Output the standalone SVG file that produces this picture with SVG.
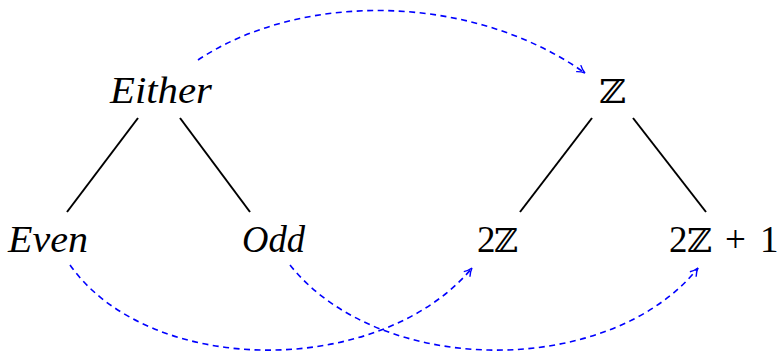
<svg xmlns="http://www.w3.org/2000/svg" width="779" height="353" viewBox="0 0 779 353">
<defs>
<marker id="ah" viewBox="0 0 10 10" refX="9" refY="5" markerWidth="10" markerHeight="10" markerUnits="userSpaceOnUse" orient="auto">
<path d="M1,1 Q5,4 9,5 Q5,6 1,9" fill="none" stroke="#0000ff" stroke-width="1.4"/>
</marker>
<style>
.lbl{font-family:"Liberation Serif",serif;font-style:italic;font-size:37px;fill:#000;text-anchor:start}
.num{font-family:"Liberation Serif",serif;font-size:37px;fill:#000;text-anchor:start}
.bb{font-family:"DejaVu Serif",serif;font-size:33px;font-style:normal}
.edge{stroke:#000;stroke-width:2;fill:none}
.map{stroke:#0000ff;stroke-width:1.6;fill:none;stroke-dasharray:6,4.5;marker-end:url(#ah)}
</style>
</defs>
<rect width="779" height="353" fill="#fff"/>
<g id="either"><text class="lbl" x="110" y="103" textLength="102" lengthAdjust="spacingAndGlyphs">Either</text></g>
<g id="even"><text class="lbl" x="8" y="252" textLength="80" lengthAdjust="spacingAndGlyphs">Even</text></g>
<g id="odd"><text class="lbl" x="242" y="252" textLength="63" lengthAdjust="spacingAndGlyphs">Odd</text></g>
<g id="Z"><text class="num" x="599" y="103"><tspan class="bb" textLength="27" lengthAdjust="spacingAndGlyphs">ℤ</tspan></text></g>
<g id="twoZ"><text class="num" y="252"><tspan x="477">2</tspan><tspan class="bb" x="494" textLength="24" lengthAdjust="spacingAndGlyphs">ℤ</tspan></text></g>
<g id="twoZ1"><text class="num" y="252"><tspan x="669">2</tspan><tspan class="bb" x="687" textLength="25" lengthAdjust="spacingAndGlyphs">ℤ</tspan><tspan x="725">+</tspan><tspan x="760">1</tspan></text></g>
<g id="connectors">
<line class="edge" x1="138" y1="118" x2="67" y2="212"/>
<line class="edge" x1="180" y1="118" x2="250" y2="212"/>
<line class="edge" x1="592" y1="118" x2="520" y2="212"/>
<line class="edge" x1="633" y1="118" x2="706" y2="212"/>
<path class="map" d="M198,60 C300,-8 470,-8 585,73"/>
<path class="map" d="M70,265 C150,378 380,378 472,268"/>
<path class="map" d="M290,265 C380,378 610,378 698,268"/>
</g>
</svg>
